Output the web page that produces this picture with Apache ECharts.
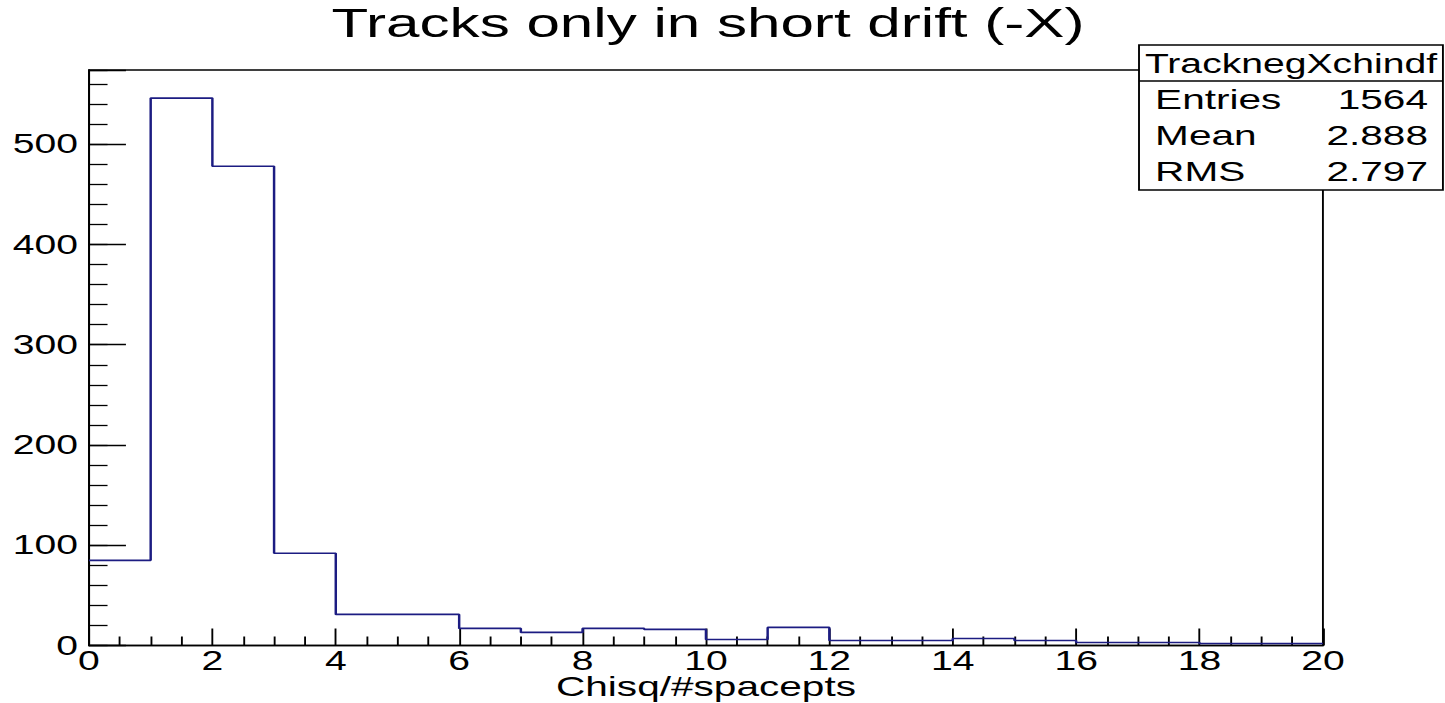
<!DOCTYPE html>
<html>
<head>
<meta charset="utf-8">
<script src="https://cdn.jsdelivr.net/npm/echarts@6/dist/echarts.min.js"></script>
<style>
  html, body { margin: 0; padding: 0; background: #fff; overflow: hidden; }
  #wrap { width: 1445px; height: 703px; overflow: hidden; }
  #chart { width: 997px; height: 703px; transform: scaleX(1.4493); transform-origin: 0 0; }
</style>
</head>
<body>
<div id="wrap"><div id="chart"></div></div>
<script>
// ---- data (histogram: Chisq/#spacepts) ----
const binEdges = [0,1,2,3,4,5,6,7,8,9,10,11,12,13,14,15,16,17,18,19,20];
const binCounts = [85,546,478,92,31,31,17,13,17,16,6,18,5,5,7,5,3,3,2,2];
const yMajorTicks = [0,100,200,300,400,500];
const xTickLabels = ['0','2','4','6','8','10','12','14','16','18','20'];
const titleText = 'Tracks only in short drift (-X)';
const xAxisTitle = 'Chisq/#spacepts';
const statsName = 'TracknegXchindf';
const statsLabels = ['Entries', 'Mean', 'RMS'];
const statsValues = ['1564', '2.888', '2.797'];

const X_MIN = 0, X_MAX = 20, Y_MAX = 574;
const FONT = '"Liberation Sans", Arial, Helvetica, sans-serif';

// step-line points: left edge of each bin, plus right edge of the last one
const stepData = binCounts.map((c, i) => [binEdges[i], c]);
stepData.push([binEdges[binEdges.length - 1], binCounts[binCounts.length - 1]]);

const chart = echarts.init(document.getElementById('chart'), null, { renderer: 'svg', width: 997, height: 703 });

// layout (chart-space px; the page stretches the chart horizontally)
const GRID = { left: 61.4, right: 84.2, top: 70, bottom: 57.5 };
const plotCenterX = GRID.left + (997 - GRID.left - GRID.right) / 2;
const bx = 785.9, by = 45, bw = 209.7, bh = 145, headH = 36;
const rowY = [99, 135, 171];

const graphics = [
  { type: 'text', x: 488.5, y: 23, z: 10,
    style: { text: titleText, fill: '#000', font: '41.5px ' + FONT, textAlign: 'center', textVerticalAlign: 'middle' } },
  { type: 'text', x: plotCenterX, y: 686, z: 10,
    style: { text: xAxisTitle, fill: '#000', font: '28px ' + FONT, textAlign: 'center', textVerticalAlign: 'middle' } },
  { type: 'rect', z: 20, shape: { x: bx, y: by, width: bw, height: bh },
    style: { fill: '#fff', stroke: '#000', lineWidth: 1.3 } },
  { type: 'line', z: 21, shape: { x1: bx, y1: by + headH, x2: bx + bw, y2: by + headH },
    style: { stroke: '#000', lineWidth: 1.3 } },
  { type: 'text', z: 22, x: bx + bw / 2, y: by + headH / 2 + 1,
    style: { text: statsName, fill: '#000', font: '27px ' + FONT, textAlign: 'center', textVerticalAlign: 'middle' } }
];
statsLabels.forEach((lab, i) => {
  graphics.push({ type: 'text', z: 22, x: 797, y: rowY[i],
    style: { text: lab, fill: '#000', font: '28px ' + FONT, textAlign: 'left', textVerticalAlign: 'middle' } });
  graphics.push({ type: 'text', z: 22, x: 985.3, y: rowY[i],
    style: { text: statsValues[i], fill: '#000', font: '28px ' + FONT, textAlign: 'right', textVerticalAlign: 'middle' } });
});

const option = {
  animation: false,
  backgroundColor: '#fff',
  grid: { left: GRID.left, right: GRID.right, top: GRID.top, bottom: GRID.bottom, containLabel: false, outerBoundsMode: 'none',
    show: true, borderColor: '#000', borderWidth: 1.3, backgroundColor: 'transparent' },
  xAxis: {
    type: 'value', min: X_MIN, max: X_MAX, interval: 2,
    axisLine: { show: true, lineStyle: { color: '#000', width: 1.3 } },
    axisTick: { show: true, inside: true, length: 17, lineStyle: { color: '#000', width: 1.3 } },
    minorTick: { show: true, splitNumber: 4, length: 9, lineStyle: { color: '#000', width: 1.3 } },
    axisLabel: { fontFamily: FONT, fontSize: 27, color: '#000', margin: 3, lineHeight: 24,
      formatter: v => { const i = Math.round(v / 2); return xTickLabels[i] !== undefined ? xTickLabels[i] : ''; } },
    splitLine: { show: false }
  },
  yAxis: [
    {
      type: 'value', min: 0, max: Y_MAX, interval: 100, position: 'left',
      axisLine: { show: true, lineStyle: { color: '#000', width: 1.3 } },
      axisTick: { show: true, inside: true, length: 25.5, lineStyle: { color: '#000', width: 1.3 } },
      axisLabel: { fontFamily: FONT, fontSize: 27, color: '#000', margin: 7.6,
        formatter: v => (yMajorTicks.indexOf(v) >= 0 ? String(v) : '') },
      splitLine: { show: false }
    },
    {
      type: 'value', min: 0, max: Y_MAX, interval: 20, position: 'left', offset: 0,
      axisLine: { show: false },
      axisTick: { show: true, inside: true, length: 12.8, lineStyle: { color: '#000', width: 1.3 } },
      axisLabel: { show: false },
      splitLine: { show: false }
    }
  ],
  series: [{
    type: 'line', step: 'end', data: stepData, yAxisIndex: 0,
    symbol: 'none', clip: false,
    lineStyle: { color: '#1c1c82', width: 1.7 },
    z: 5
  }],
  graphic: graphics
};
chart.setOption(option);
</script>
</body>
</html>
